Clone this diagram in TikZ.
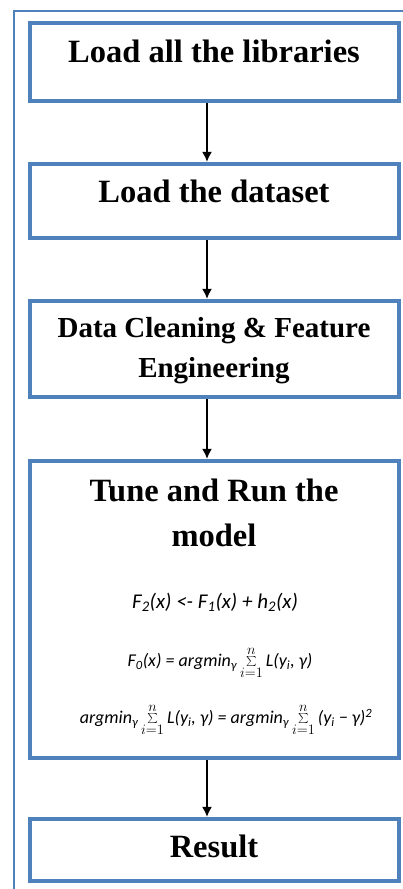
\documentclass[tikz,border=0pt]{standalone}
\usepackage{fontspec}
\setmainfont{Liberation Serif}
\newfontfamily\formfont{Carlito}
\usetikzlibrary{positioning,arrows.meta}
\tikzset{>={Latex[length=10pt,width=10pt]}}
\definecolor{boxblue}{RGB}{79,129,189}
\newcommand{\sumin}{\,{\fontsize{22}{24}\selectfont$\sum\limits_{i=1}^{n}$}\,}

\tikzset{
  stepbox/.style={draw=boxblue,line width=4.5pt,minimum width=369pt,inner sep=0pt},
  title/.style={font=\fontsize{32.5}{45}\selectfont\bfseries,anchor=base,align=center},
  formula/.style={font=\formfont\itshape\fontsize{18}{21}\selectfont},
  flow/.style={->,line width=1.3pt}
}

\begin{document}
\begin{tikzpicture}[x=1pt,y=-1pt]
    \clip (0,0) rectangle (403,889);
    \draw[boxblue,line width=2.5pt] (14,900) -- (14,11) -- (420,11);

    \node[stepbox,minimum height=78pt] (libs) at (214.5,62) {};
    \node[stepbox,minimum height=74pt] (data) at (214.5,201) {};
    \node[stepbox,minimum height=96pt] (clean) at (214.5,349) {};
    \node[stepbox,minimum height=297pt] (model) at (214.5,609.5) {};
    \node[stepbox,minimum height=62pt] (result) at (214.5,850) {};

    % base anchor = last line of the text
    \node[title] (libstext) at (214,62) {Load all the libraries};
    \node[title] (datatext) at (214,202) {Load the dataset};
    \node[title,font=\fontsize{29}{40}\selectfont\bfseries] (cleantext) at (214,377) {Data Cleaning \& Feature\\Engineering};
    \node[title] (modeltext) at (214,546) {Tune and Run the\\model};
    \node[title] (resulttext) at (214,857) {Result};

    \node[formula,font=\formfont\itshape\fontsize{21}{24}\selectfont] (boost) at (215,602)
      {F\textsubscript{2}(x) <- F\textsubscript{1}(x) + h\textsubscript{2}(x)};
    \node[formula] (init) at (220,663)
      {F\textsubscript{0}(x) = argmin\textsubscript{γ}\sumin L(y\textsubscript{i}, γ)};
    \node[formula] (loss) at (226,720)
      {argmin\textsubscript{γ}\sumin L(y\textsubscript{i}, γ) = argmin\textsubscript{γ}\sumin (y\textsubscript{i} − γ)\textsuperscript{2}};

    \draw[flow] ([xshift=-7.5pt]libs.south) -- ([xshift=-7.5pt]data.north);
    \draw[flow] ([xshift=-7.5pt]data.south) -- ([xshift=-7.5pt]clean.north);
    \draw[flow] ([xshift=-7.5pt]clean.south) -- ([xshift=-7.5pt]model.north);
    \draw[flow] ([xshift=-7.5pt]model.south) -- ([xshift=-7.5pt]result.north);
\end{tikzpicture}
\end{document}
